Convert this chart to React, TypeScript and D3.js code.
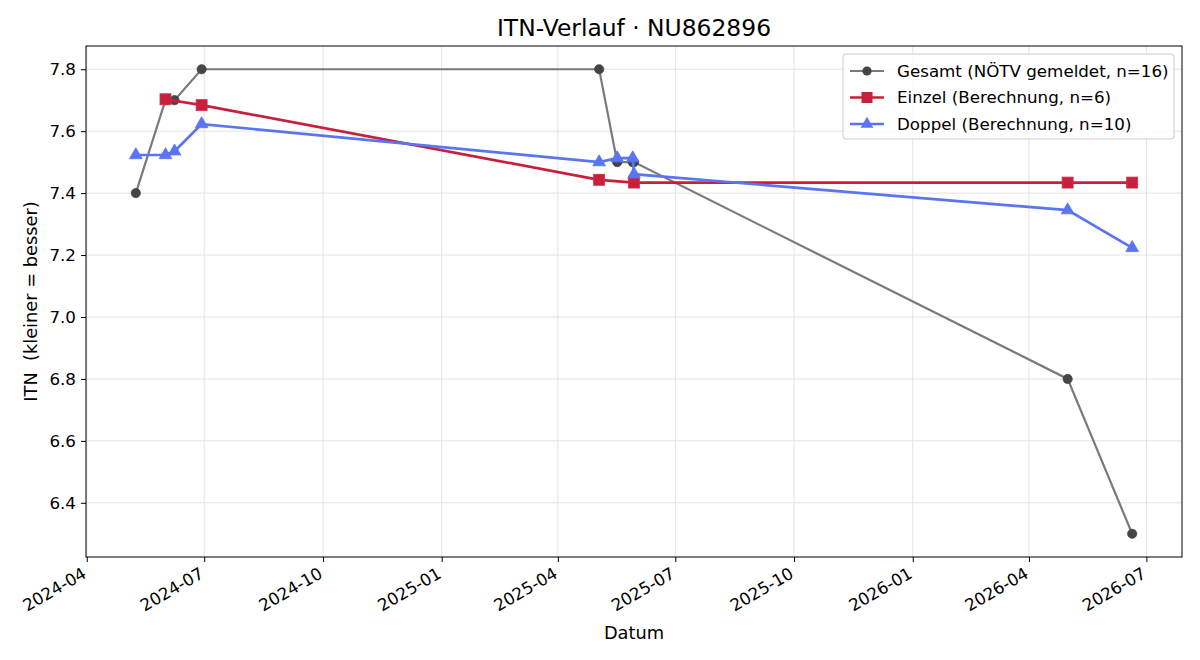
import { useEffect, useRef } from 'react'
import * as d3 from 'd3'

const totalDates = ['2024-05-09', '2024-06-01', '2024-06-08', '2024-06-29', '2025-05-03', '2025-05-17', '2025-05-29', '2025-05-30', '2026-05-01', '2026-06-20']
const totalValues = [7.4, 7.7, 7.7, 7.8, 7.8, 7.5, 7.5, 7.5, 6.8, 6.3]

const singlesDates = ['2024-06-01', '2024-06-29', '2025-05-03', '2025-05-30', '2026-05-01', '2026-06-20']
const singlesValues = [7.703, 7.684, 7.443, 7.434, 7.434, 7.434]

const doublesDates = ['2024-05-09', '2024-06-01', '2024-06-08', '2024-06-29', '2025-05-03', '2025-05-17', '2025-05-29', '2025-05-30', '2026-05-01', '2026-06-20']
const doublesValues = [7.523, 7.523, 7.535, 7.623, 7.5, 7.513, 7.513, 7.461, 7.345, 7.223]

const yTicks = [6.4, 6.6, 6.8, 7.0, 7.2, 7.4, 7.6, 7.8]
const xTickDates = ['2024-04-01', '2024-07-01', '2024-10-01', '2025-01-01', '2025-04-01', '2025-07-01', '2025-10-01', '2026-01-01', '2026-04-01', '2026-07-01']

const legendLabels = ['Gesamt (NÖTV gemeldet, n=16)', 'Einzel (Berechnung, n=6)', 'Doppel (Berechnung, n=10)']

const FONT = 'DejaVu Sans, sans-serif'
const TICK_FS = 16.7
const LEGEND_FS = 16.7
const LABEL_FS = 17.8
const TITLE_FS = 23.4

export default function App() {
  const svgRef = useRef<SVGSVGElement>(null)

  useEffect(() => {
    const width = 1200
    const height = 660
    const margin = { top: 46, right: 18, bottom: 103, left: 86 }
    const w = width - margin.left - margin.right
    const h = height - margin.top - margin.bottom

    const parse = d3.timeParse('%Y-%m-%d')
    const mk = (dates: string[], vals: number[]) => dates.map((d, i) => ({ date: parse(d) as Date, value: vals[i] }))
    const total = mk(totalDates, totalValues)
    const singles = mk(singlesDates, singlesValues)
    const doubles = mk(doublesDates, doublesValues)

    const all = [...total, ...singles, ...doubles]
    const [tMin, tMax] = d3.extent(all, (d) => d.date.getTime()) as [number, number]
    const tPad = (tMax - tMin) * 0.05
    const [vMin, vMax] = d3.extent(all, (d) => d.value) as [number, number]
    const vPad = (vMax - vMin) * 0.05

    const x = d3.scaleTime().domain([new Date(tMin - tPad), new Date(tMax + tPad)]).range([0, w])
    const y = d3.scaleLinear().domain([vMin - vPad, vMax + vPad]).range([h, 0])

    const svg = d3.select(svgRef.current)
    svg.selectAll('*').remove()
    svg.attr('width', width).attr('height', height).attr('viewBox', `0 0 ${width} ${height}`)
    svg.append('rect').attr('width', width).attr('height', height).attr('fill', '#fff')

    const g = svg.append('g').attr('transform', `translate(${margin.left},${margin.top})`)

    const xTicks = xTickDates.map((d) => parse(d) as Date)

    // grid
    g.append('g')
      .selectAll('line')
      .data(xTicks)
      .join('line')
      .attr('x1', (d) => x(d))
      .attr('x2', (d) => x(d))
      .attr('y1', 0)
      .attr('y2', h)
      .attr('stroke', '#e3e3e3')
      .attr('stroke-width', 1)
    g.append('g')
      .selectAll('line')
      .data(yTicks)
      .join('line')
      .attr('x1', 0)
      .attr('x2', w)
      .attr('y1', (d) => y(d))
      .attr('y2', (d) => y(d))
      .attr('stroke', '#e3e3e3')
      .attr('stroke-width', 1)

    // axes
    const xAxis = g
      .append('g')
      .attr('transform', `translate(0,${h})`)
      .call(d3.axisBottom(x).tickValues(xTicks).tickFormat((d) => d3.timeFormat('%Y-%m')(d as Date)).tickSize(5).tickSizeOuter(0))
    xAxis.select('.domain').remove()
    xAxis.selectAll('line').attr('stroke', '#000').attr('stroke-width', 1)
    xAxis
      .selectAll('text')
      .attr('font-family', FONT)
      .attr('font-size', TICK_FS)
      .attr('fill', '#000')
      .attr('text-anchor', 'end')
      .attr('dy', null)
      .attr('transform', 'translate(-2,16) rotate(-30)')
      .attr('y', 0)
      .attr('x', 0)
      .attr('dominant-baseline', 'middle')

    const yAxis = g.append('g').call(d3.axisLeft(y).tickValues(yTicks).tickFormat(d3.format('.1f')).tickSize(5).tickSizeOuter(0))
    yAxis.select('.domain').remove()
    yAxis.selectAll('line').attr('stroke', '#000').attr('stroke-width', 1)
    yAxis.selectAll('text').attr('font-family', FONT).attr('font-size', TICK_FS).attr('fill', '#000').attr('x', -10)

    // frame
    g.append('rect').attr('width', w).attr('height', h).attr('fill', 'none').attr('stroke', '#000').attr('stroke-width', 1)

    const line = d3
      .line<{ date: Date; value: number }>()
      .x((d) => x(d.date))
      .y((d) => y(d.value))

    const plot = g.append('g')

    // Gesamt
    const grey = '#7a7a7a'
    const greyDot = '#454545'
    plot.append('path').datum(total).attr('d', line).attr('fill', 'none').attr('stroke', grey).attr('stroke-width', 2.2)
    plot
      .selectAll('.tot')
      .data(total)
      .join('circle')
      .attr('cx', (d) => x(d.date))
      .attr('cy', (d) => y(d.value))
      .attr('r', 4.6)
      .attr('fill', greyDot)
      .attr('stroke', greyDot)
      .attr('stroke-width', 0.8)

    // Einzel
    const red = '#c8203c'
    plot.append('path').datum(singles).attr('d', line).attr('fill', 'none').attr('stroke', red).attr('stroke-width', 2.7)
    plot
      .selectAll('.sq')
      .data(singles)
      .join('rect')
      .attr('x', (d) => x(d.date) - 5.5)
      .attr('y', (d) => y(d.value) - 5.5)
      .attr('width', 11)
      .attr('height', 11)
      .attr('fill', red)
      .attr('stroke', '#d0304a')
      .attr('stroke-width', 0.8)

    // Doppel
    const blue = '#5a74f2'
    const tri = d3.symbol().type(d3.symbolTriangle).size(70)
    plot.append('path').datum(doubles).attr('d', line).attr('fill', 'none').attr('stroke', blue).attr('stroke-width', 2.7)
    plot
      .selectAll('.tri')
      .data(doubles)
      .join('path')
      .attr('d', tri)
      .attr('transform', (d) => `translate(${x(d.date)},${y(d.value)})`)
      .attr('fill', blue)
      .attr('stroke', blue)
      .attr('stroke-width', 0.8)

    // title & labels
    svg
      .append('text')
      .attr('x', margin.left + w / 2)
      .attr('y', 36)
      .attr('text-anchor', 'middle')
      .attr('font-family', FONT)
      .attr('font-size', TITLE_FS)
      .attr('fill', '#000')
      .text('ITN-Verlauf · NU862896')
    svg
      .append('text')
      .attr('x', margin.left + w / 2)
      .attr('y', 639)
      .attr('text-anchor', 'middle')
      .attr('font-family', FONT)
      .attr('font-size', LABEL_FS)
      .attr('fill', '#000')
      .text('Datum')
    svg
      .append('text')
      .attr('transform', `translate(37,${margin.top + h / 2}) rotate(-90)`)
      .attr('text-anchor', 'middle')
      .attr('font-family', FONT)
      .attr('font-size', LABEL_FS)
      .attr('fill', '#000')
      .attr('xml:space', 'preserve')
      .style('white-space', 'pre')
      .text('ITN  (kleiner = besser)')

    // legend
    const lg = svg.append('g').attr('transform', 'translate(843,54)')
    lg.append('rect').attr('width', 331).attr('height', 85).attr('rx', 3).attr('fill', 'rgba(255,255,255,0.85)').attr('stroke', '#cccccc').attr('stroke-width', 1)
    const rows = [0, 1, 2]
    rows.forEach((i) => {
      const cy = 17 + i * 26.5
      const row = lg.append('g').attr('transform', `translate(0,${cy})`)
      const col = i === 0 ? grey : i === 1 ? red : blue
      row.append('line').attr('x1', 7).attr('x2', 41).attr('y1', 0).attr('y2', 0).attr('stroke', col).attr('stroke-width', i === 0 ? 2.2 : 2.7)
      if (i === 0) row.append('circle').attr('cx', 24).attr('cy', 0).attr('r', 4.6).attr('fill', greyDot)
      if (i === 1) row.append('rect').attr('x', 18.5).attr('y', -5.5).attr('width', 11).attr('height', 11).attr('fill', red)
      if (i === 2) row.append('path').attr('d', tri).attr('transform', 'translate(24,0)').attr('fill', blue)
      row
        .append('text')
        .attr('x', 54)
        .attr('y', 0)
        .attr('dy', '0.35em')
        .attr('font-family', FONT)
        .attr('font-size', LEGEND_FS)
        .attr('fill', '#000')
        .text(legendLabels[i])
    })
  }, [])

  return <svg ref={svgRef} style={{ display: 'block', position: 'absolute', left: 0, top: 0 }} />
}
